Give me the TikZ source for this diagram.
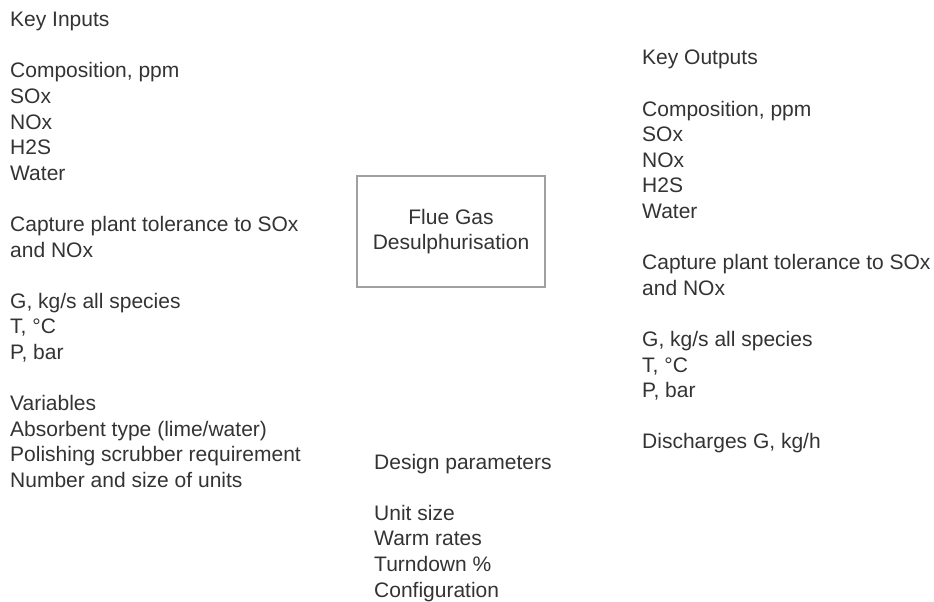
\documentclass[tikz,border=0pt]{standalone}
\usepackage{fontspec}
\setmainfont{Liberation Sans}
\usetikzlibrary{positioning}
\definecolor{txtgrey}{RGB}{51, 51, 51}
\definecolor{edgegrey}{RGB}{160, 160, 160}

\begin{document}
\begin{tikzpicture}[
        x=1pt, y=-1pt,
        txt/.style={anchor=base west, inner sep=0pt, align=left, text=txtgrey,
            font=\fontsize{21}{25.6}\selectfont},
        unit/.style={rectangle, draw=edgegrey, line width=1.3pt, minimum width=188pt,
            minimum height=111pt, align=center, text=txtgrey,
            font=\fontsize{21}{25.2}\selectfont}
    ]
        \useasboundingbox (0,0) rectangle (934,602);

        % Inputs on the left (base = last line)
        \node[txt] (inputs) at (10,487.5) {Key Inputs\\[25.6pt]
            Composition, ppm\\SOx\\NOx\\H2S\\Water\\[25.6pt]
            Capture plant tolerance to SOx\\and NOx\\[25.6pt]
            G, kg/s all species\\T, °C\\P, bar\\[25.6pt]
            Variables\\Absorbent type (lime/water)\\Polishing scrubber requirement\\Number and size of units};

        % Unit in the middle
        \node[unit] (fgd) at (451,231.5) {Flue Gas\\Desulphurisation};

        % Outputs on the right
        \node[txt] (outputs) at (642,448.8) {Key Outputs\\[25.6pt]
            Composition, ppm\\SOx\\NOx\\H2S\\Water\\[25.6pt]
            Capture plant tolerance to SOx\\and NOx\\[25.6pt]
            G, kg/s all species\\T, °C\\P, bar\\[25.6pt]
            Discharges G, kg/h};

        % Design parameters below
        \node[txt] (design) at (374,597) {Design parameters\\[25.6pt]
            Unit size\\Warm rates\\Turndown \%\\Configuration};
    \end{tikzpicture}
\end{document}
